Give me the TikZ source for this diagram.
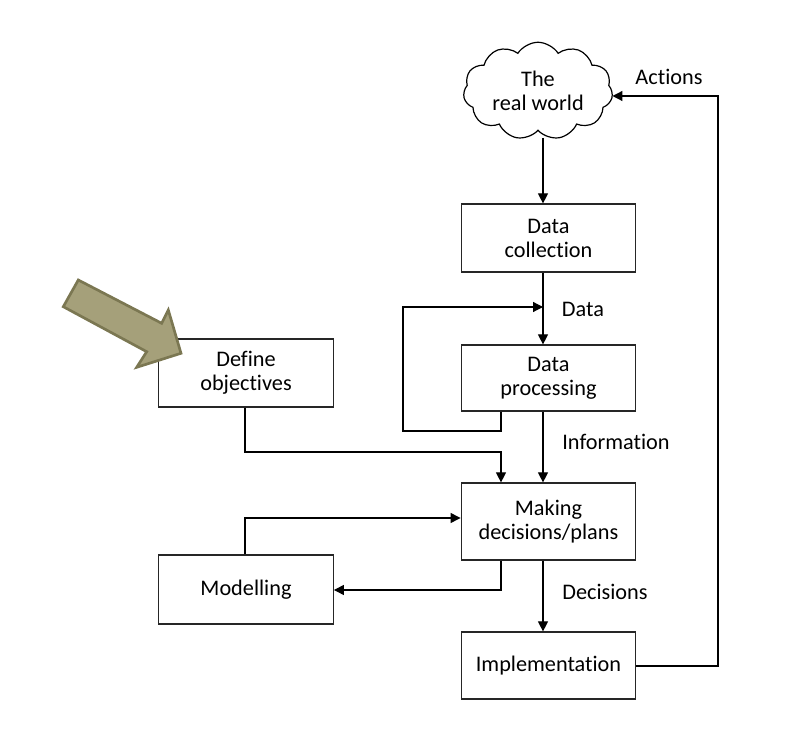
\documentclass[tikz,border=0pt]{standalone}
\usepackage{fontspec}
\setmainfont{Carlito}[Ligatures=NoCommon]
\usetikzlibrary{shapes.symbols,arrows.meta}
\begin{document}
\begin{tikzpicture}[x=0.75pt,y=-0.75pt,
  box/.style={draw=black!85,line width=0.9pt,minimum width=131pt,align=center,inner sep=0pt,
    font=\fontsize{16.7}{18}\selectfont},
  lbl/.style={font=\fontsize{16.7}{18}\selectfont,inner sep=0pt},
  conn/.style={line width=0.9pt,-{Triangle[length=7.5pt,width=7.5pt]}},
  plain/.style={line width=0.9pt}]
\useasboundingbox (0,0) rectangle (808,730);
% nodes
\node[cloud,draw,line width=0.9pt,cloud puffs=11,cloud puff arc=115,aspect=1.6,
  minimum width=112pt,minimum height=70pt,align=center,inner sep=0pt,
  font=\fontsize{16.7}{18}\selectfont] (world) at (538,91) {The\\real world};
\node[box,minimum height=51pt] (coll) at (548.5,238) {Data\\collection};
\node[box,minimum height=49.5pt] (proc) at (548.5,378) {Data\\processing};
\node[box,minimum height=51pt] (obj) at (246,373) {Define\\objectives};
\node[box,minimum height=57.75pt] (dec) at (548.5,521.5) {Making\\decisions/plans};
\node[box,minimum height=51.75pt] (mod) at (246,589.5) {Modelling};
\node[box,minimum height=50.25pt] (impl) at (548.5,665.5) {Implementation};
% labels
\node[lbl] (ldata) at (583,309) {Data};
\node[lbl] (linfo) at (616,442) {Information};
\node[lbl] (ldec) at (605,592) {Decisions};
\node[lbl] (lact) at (669,77) {Actions};
% coordinates
\coordinate (loopA) at (501,431);
\coordinate (loopB) at (403,307);
\coordinate (objA) at (245,452);
\coordinate (modA) at (245,518);
\coordinate (decA) at (501,590);
\coordinate (implA) at (718,666);
% connectors
\draw[conn] (543,138) -- (coll.north -| 543,0);
\draw[conn] (coll.south -| 543,0) -- (proc.north -| 543,0);
\draw[conn] (proc.south -| loopA) -- (loopA) -| (loopB) -- (loopB -| 543,0);
\draw[conn] (proc.south -| 543,0) -- (dec.north -| 543,0);
\draw[conn] (obj.south -| objA) -- (objA) -| (dec.north -| loopA);
\draw[conn] (mod.north -| modA) -- (modA) -- (modA -| dec.west);
\draw[conn] (dec.south -| decA) -- (decA) -- (decA -| mod.east);
\draw[conn] (dec.south -| 543,0) -- (impl.north -| 543,0);
\draw[conn] (impl.east |- implA) -- (implA) |- (world.east |- 0,96);
% olive arrow
\draw[fill={rgb,255:red,165;green,160;blue,122},draw={rgb,255:red,123;green,119;blue,82},line width=2pt,line join=miter]
  (78.3,280) -- (161.7,323.3) -- (168.3,310) -- (181,353.3) -- (136.7,367.3) -- (146.7,351.7) -- (63.3,306.7) -- cycle;
\end{tikzpicture}
\end{document}
